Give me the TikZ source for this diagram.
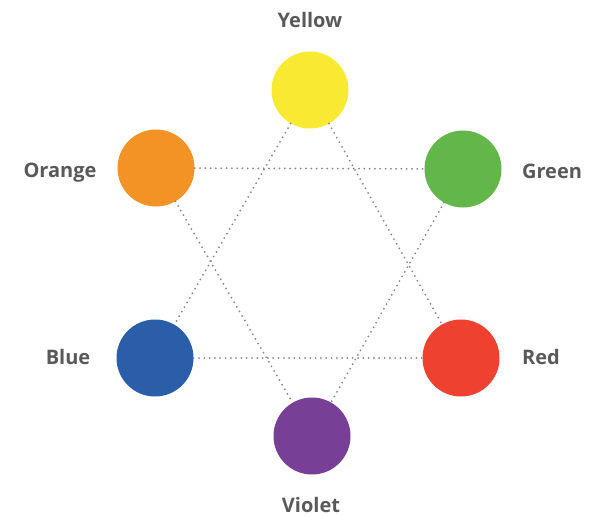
\documentclass[tikz,border=0pt]{standalone}
\usepackage{fontspec}
\setmainfont{Open Sans}
\definecolor{cyellow}{HTML}{F7EA31}
\definecolor{corange}{HTML}{F39325}
\definecolor{cgreen}{HTML}{62B64A}
\definecolor{cblue}{HTML}{2A5EA8}
\definecolor{cred}{HTML}{EE4130}
\definecolor{cviolet}{HTML}{783F96}
\definecolor{ctext}{HTML}{595959}
\definecolor{cline}{HTML}{858585}
\tikzset{
  hue/.style={circle,minimum size=77pt,inner sep=0pt,fill=#1},
  hname/.style={text=ctext,font=\fontsize{20}{22}\selectfont\bfseries,
    text height=0.72em,text depth=0.24em},
  link/.style={cline,line width=2pt,dash pattern=on 0pt off 5.3pt,line cap=round}
}
\begin{document}
\begin{tikzpicture}[x=1pt,y=-1pt]
\useasboundingbox (0,0) rectangle (591,516);
%\draw[step=50,gray,very thin] (0,0) grid (591,516); %background grid
\node[hue=cyellow] (yellow) at (310,90) {};
\node[hue=corange] (orange) at (156,168) {};
\node[hue=cgreen]  (green)  at (463,169) {};
\node[hue=cblue]   (blue)   at (155,358) {};
\node[hue=cred]    (red)    at (461,358) {};
\node[hue=cviolet] (violet) at (312,436) {};
\node[hname] (lyellow) at (310,25)  {Yellow};
\node[hname] (lorange) at (60,175)  {Orange};
\node[hname] (lgreen)  at (552,176) {Green};
\node[hname] (lblue)   at (68,362)  {Blue};
\node[hname] (lred)    at (541,362) {Red};
\node[hname] (lviolet) at (311,510) {Violet};
\draw[link] (orange) -- (green);
\draw[link] (blue) -- (red);
\draw[link] (yellow) -- (blue);
\draw[link] (yellow) -- (red);
\draw[link] (orange) -- (violet);
\draw[link] (green) -- (violet);
\end{tikzpicture}
\end{document}
